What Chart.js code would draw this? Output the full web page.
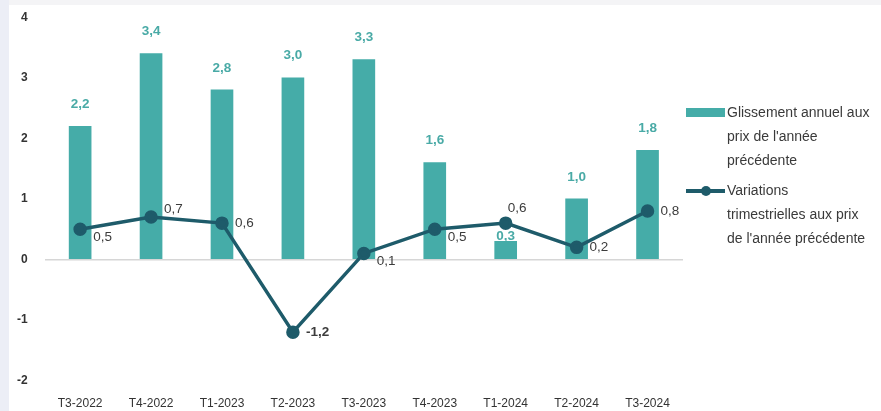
<!DOCTYPE html>
<html lang="fr">
<head>
<meta charset="UTF-8">
<title>Glissement annuel et variations trimestrielles</title>
<script src="https://cdn.jsdelivr.net/npm/chart.js"></script>
<style>
  html, body { margin: 0; padding: 0; background: #fff; }
  body { width: 881px; height: 411px; position: relative; overflow: hidden;
         font-family: "Liberation Sans", Arial, sans-serif; }
  .strip { position: absolute; left: 0; top: 0; width: 9px; height: 411px; background: #eceef6; z-index: 2; }
  .topband { position: absolute; left: 0; top: 0; width: 881px; height: 5px; background: #f4f4f6; z-index: 2; }
  #wrap { position: absolute; left: 0; top: -7px; width: 881px; height: 434px; }
  .legend { position: absolute; left: 686px; font-size: 14px; line-height: 24px; color: #3a3a3a; white-space: nowrap; }
  .legend .item { position: relative; padding-left: 41px; }
  .legend .sw-bar { position: absolute; left: 0; top: 8px; width: 39px; height: 9px; background: #45aca8; }
  .legend .sw-line { position: absolute; left: 0; top: 11px; width: 39px; height: 4px; background: #1e5b6a; }
  .legend .sw-dot { position: absolute; left: 15px; top: 8px; width: 10px; height: 10px; border-radius: 50%; background: #1e5b6a; }
</style>
</head>
<body>
<div id="wrap"><canvas id="chart" width="881" height="434"></canvas></div>
<div class="topband"></div>
<div class="strip"></div>

<div class="legend" style="top:100px">
  <div class="item"><span class="sw-bar"></span>Glissement annuel aux<br>prix de l'année<br>précédente</div>
</div>
<div class="legend" style="top:178px">
  <div class="item"><span class="sw-line"></span><span class="sw-dot"></span>Variations<br>trimestrielles aux prix<br>de l'année précédente</div>
</div>

<script>
const quarters = ['T3-2022', 'T4-2022', 'T1-2023', 'T2-2023', 'T3-2023', 'T4-2023', 'T1-2024', 'T2-2024', 'T3-2024'];
const annualSlip = [2.2, 3.4, 2.8, 3.0, 3.3, 1.6, 0.3, 1.0, 1.8];
const quarterlyChange = [0.5, 0.7, 0.6, -1.2, 0.1, 0.5, 0.6, 0.2, 0.8];
const yTicks = [-2, -1, 0, 1, 2, 3, 4];

// where each line label sits relative to its point
const lineLabelPlace = ['rb', 'rt', 'r', 'r', 'rb', 'rb', 'tr', 'r', 'r'];

const fmt = v => v.toFixed(1).replace('.', ',');

const labelPlugin = {
  id: 'valueLabels',
  afterDatasetsDraw(chart) {
    const ctx = chart.ctx;
    ctx.save();
    ctx.textBaseline = 'middle';
    // bar labels
    const bars = chart.getDatasetMeta(1).data;
    ctx.font = 'bold 13.5px "Liberation Sans", Arial, sans-serif';
    ctx.fillStyle = '#49aaa6';
    ctx.textAlign = 'center';
    bars.forEach((b, i) => {
      const off = annualSlip[i] < 0.5 ? 5 : 22;
      ctx.fillText(fmt(annualSlip[i]), b.x, b.y - off);
    });
    // line labels
    const pts = chart.getDatasetMeta(0).data;
    ctx.fillStyle = '#3c3c3c';
    ctx.textAlign = 'left';
    pts.forEach((p, i) => {
      let dx = 13, dy = 0;
      const pl = lineLabelPlace[i];
      if (pl === 'rb') dy = 8;
      if (pl === 'rt') dy = -8;
      if (pl === 'tr') { dx = 2; dy = -15; }
      if (quarterlyChange[i] < 0) ctx.font = 'bold 13.5px "Liberation Sans", Arial, sans-serif';
      else ctx.font = '13.5px "Liberation Sans", Arial, sans-serif';
      ctx.fillText(fmt(quarterlyChange[i]), p.x + dx, p.y + dy);
    });
    ctx.restore();
  }
};

new Chart(document.getElementById('chart'), {
  data: {
    labels: quarters,
    datasets: [
      {
        type: 'line',
        label: "Variations trimestrielles aux prix de l'année précédente",
        data: quarterlyChange,
        borderColor: '#1e5b6a',
        backgroundColor: '#1e5b6a',
        borderWidth: 3.5,
        pointRadius: 5,
        pointHoverRadius: 5,
        tension: 0,
        order: 0
      },
      {
        type: 'bar',
        label: "Glissement annuel aux prix de l'année précédente",
        data: annualSlip,
        backgroundColor: '#45aca8',
        barThickness: 22,
        order: 1
      }
    ]
  },
  options: {
    responsive: false,
    animation: false,
    layout: { padding: { left: 0, right: 198, top: 3, bottom: 0 } },
    plugins: { legend: { display: false }, tooltip: { enabled: false } },
    scales: {
      x: {
        offset: true,
        grid: { display: false, drawTicks: false },
        border: { display: false },
        ticks: { color: '#333', font: { size: 12, family: '"Liberation Sans Narrow", "Liberation Sans", Arial, sans-serif' }, padding: 16, maxRotation: 0 }
      },
      y: {
        min: -2,
        max: 4,
        afterBuildTicks: axis => { axis.ticks = yTicks.map(v => ({ value: v })); },
        grid: {
          color: c => c.tick && c.tick.value === 0 ? '#d6d6d6' : 'transparent',
          lineWidth: 1.5,
          drawTicks: false
        },
        border: { display: false },
        ticks: { color: '#333', font: { size: 12, weight: 'bold', family: '"Liberation Sans", Arial, sans-serif' }, padding: 17 }
      }
    }
  },
  plugins: [labelPlugin]
});
</script>
</body>
</html>
